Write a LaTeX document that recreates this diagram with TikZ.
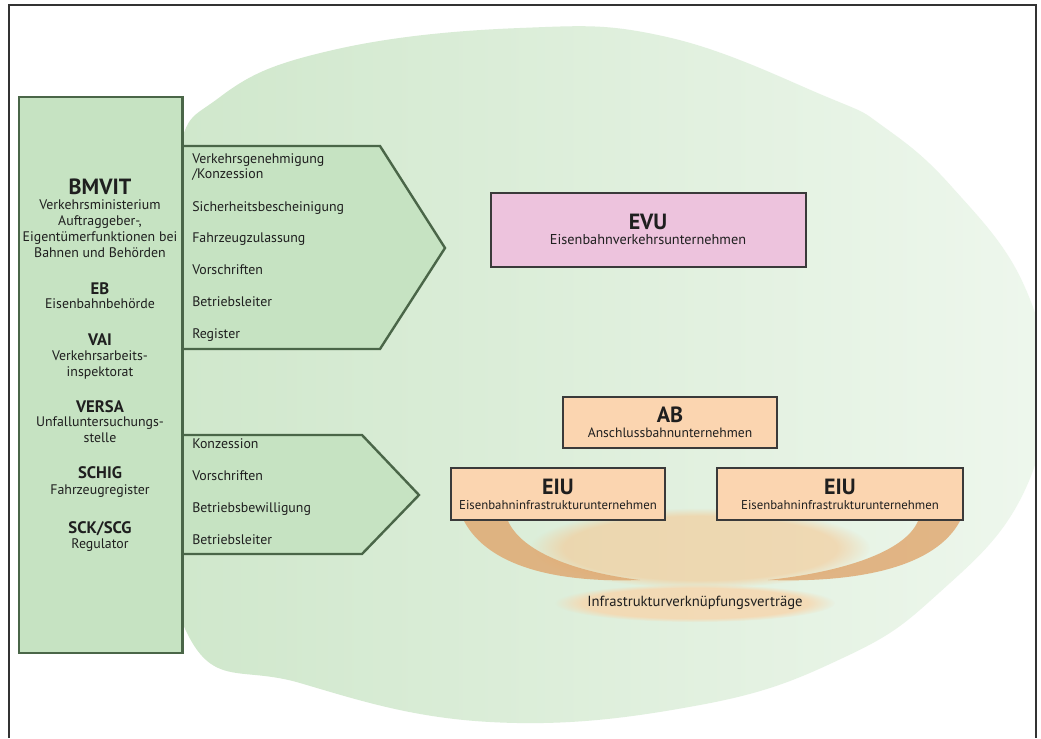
\documentclass[tikz,border=0pt]{standalone}
\usepackage{fontspec}
\setmainfont{PT Sans}
\usetikzlibrary{fadings}
\definecolor{boxgreen}{HTML}{C6E3C2}
\definecolor{boxgreenedge}{HTML}{4A6648}
\definecolor{blobL}{HTML}{CFE7CB}
\definecolor{blobR}{HTML}{EEF7ED}
\definecolor{evupink}{HTML}{EDC3DD}
\definecolor{peach}{HTML}{FBD5B0}
\definecolor{swoosh}{HTML}{DFA56C}
\definecolor{glow}{HTML}{F7C48C}
\definecolor{glowlight}{HTML}{F9D3A8}
\definecolor{edgedark}{HTML}{3A3A3A}
\begin{document}
\begin{tikzpicture}[x=0.75pt,y=-0.75pt,
  body/.style={font=\fontsize{10.4}{12}\selectfont, text=black!88, inner sep=0pt, text height=0.7em, text depth=0.2em},
  bodyw/.style={body, anchor=west},
  big/.style={font=\fontsize{16.5}{19}\bfseries\selectfont, text=black!88, inner sep=0pt},
  sub/.style={font=\fontsize{12.5}{14}\bfseries\selectfont, text=black!88, inner sep=0pt},
  ttl/.style={font=\fontsize{16.5}{18}\bfseries\selectfont, text=black!88, inner sep=0pt},
  orgbox/.style={draw=edgedark, line width=1.6pt, inner sep=0pt},
  arrowshape/.style={fill=boxgreen, draw=boxgreenedge, line width=1.8pt, line join=miter}
]
\useasboundingbox (0,0) rectangle (1041,738);
\fill[white] (0,0) rectangle (1041,738);
\begin{scope}
\clip (9,5) rectangle (1036,738);
% soft background blob
\shade[left color=blobL, right color=blobR]
  plot[smooth cycle, tension=0.7] coordinates {(520,28) (667,37) (827,97) (884,127) (952,187) (1023,283) (1045,390) (1020,500) (940,592) (847,656) (700,705) (490,722) (300,683) (187,633) (160,400) (175,170) (220,97) (333,50)};
% orange glows
\fill[glow, opacity=0.55, path fading=circle with fuzzy edge 20 percent] (700,548) ellipse (170 and 40);
\fill[glowlight, opacity=0.75, path fading=circle with fuzzy edge 20 percent] (695,603) ellipse (140 and 19);
% swooshes
\fill[swoosh, opacity=0.8] (464,521) .. controls (488,566) and (555,583) .. (640,580)
   .. controls (575,572) and (522,552) .. (508,521) -- cycle;
\fill[swoosh, opacity=0.8] (960,521) .. controls (936,566) and (862,583) .. (768,580)
   .. controls (842,572) and (905,552) .. (918,521) -- cycle;
\end{scope}
% frame
\draw[line width=1.3pt, black!80] (9,738) -- (9,5) -- (1036,5) -- (1036,738);
% left box
\node[draw=boxgreenedge, fill=boxgreen, line width=1.8pt, inner sep=0pt, minimum width=163*0.75pt, minimum height=556*0.75pt] (lbox) at (100.5,375) {};
% arrows
\draw[arrowshape] (lbox.east |- 0,146) coordinate (a1s) -- (380,146) -- (445,248) coordinate (a1tip) -- (380,349) -- (lbox.east |- 0,349) coordinate (a1e);
\draw[arrowshape] (lbox.east |- 0,435) coordinate (a2s) -- (362,435) -- (419,495) coordinate (a2tip) -- (362,554) -- (lbox.east |- 0,554) coordinate (a2e);
\draw[boxgreenedge, line width=1.8pt] (lbox.north east) -- (lbox.south east);
% left box texts
\node[big] (bmvit) at (100,187) {BMVIT};
\node[body] (l1) at (100,206) {Verkehrsministerium};
\node[body] (l2) at (100,222) {Auftraggeber-,};
\node[body] (l3) at (100,238) {Eigentümerfunktionen bei};
\node[body] (l4) at (100,254) {Bahnen und Behörden};
\node[sub] (eb) at (100,289) {EB};
\node[body] (l5) at (100,305) {Eisenbahnbehörde};
\node[sub] (vai) at (100,340) {VAI};
\node[body] (l6) at (100,357) {Verkehrsarbeits-};
\node[body] (l7) at (100,373) {inspektorat};
\node[sub] (versa) at (100,407) {VERSA};
\node[body] (l8) at (100,423) {Unfalluntersuchungs-};
\node[body] (l9) at (100,439) {stelle};
\node[sub] (schig) at (100,473) {SCHIG};
\node[body] (l10) at (100,491) {Fahrzeugregister};
\node[sub] (sck) at (100,529) {SCK/SCG};
\node[body] (l11) at (100,545) {Regulator};
% upper arrow items
\node[bodyw] (u1) at (192,160) {Verkehrsgenehmigung};
\node[bodyw] (u1b) at (192,175) {/Konzession};
\node[bodyw] (u2) at (192,208) {Sicherheitsbescheinigung};
\node[bodyw] (u3) at (192,239) {Fahrzeugzulassung};
\node[bodyw] (u4) at (192,271) {Vorschriften};
\node[bodyw] (u5) at (192,303) {Betriebsleiter};
\node[bodyw] (u6) at (192,335) {Register};
% lower arrow items
\node[bodyw] (d1) at (192,445) {Konzession};
\node[bodyw] (d2) at (192,477) {Vorschriften};
\node[bodyw] (d3) at (192,509) {Betriebsbewilligung};
\node[bodyw] (d4) at (192,541) {Betriebsleiter};
% EVU
\node[orgbox, fill=evupink, minimum width=315*0.75pt, minimum height=74*0.75pt] (evu) at (648.5,230) {};
\node[ttl] (evut) at (648,222) {EVU};
\node[body, font=\fontsize{10.7}{12}\selectfont] (evus) at (648,241) {Eisenbahnverkehrsunternehmen};
% AB
\node[orgbox, fill=peach, minimum width=214*0.75pt, minimum height=51*0.75pt] (ab) at (670,422.5) {};
\node[ttl] (abt) at (670,415) {AB};
\node[body, font=\fontsize{10.2}{12}\selectfont] (abs) at (670,434) {Anschlussbahnunternehmen};
% EIU
\node[orgbox, fill=peach, minimum width=214*0.75pt, minimum height=52*0.75pt] (eiu1) at (558,494) {};
\node[ttl] (eiu1t) at (558,487) {EIU};
\node[body, font=\fontsize{9.6}{12}\selectfont] (eiu1s) at (558,506) {Eisenbahninfrastrukturunternehmen};
\node[orgbox, fill=peach, minimum width=246*0.75pt, minimum height=52*0.75pt] (eiu2) at (840,494) {};
\node[ttl] (eiu2t) at (840,487) {EIU};
\node[body, font=\fontsize{9.6}{12}\selectfont] (eiu2s) at (840,506) {Eisenbahninfrastrukturunternehmen};
% Infra label
\node[body, font=\fontsize{11}{12}\selectfont] (infra) at (695,603) {Infrastrukturverknüpfungsverträge};
\end{tikzpicture}
\end{document}
